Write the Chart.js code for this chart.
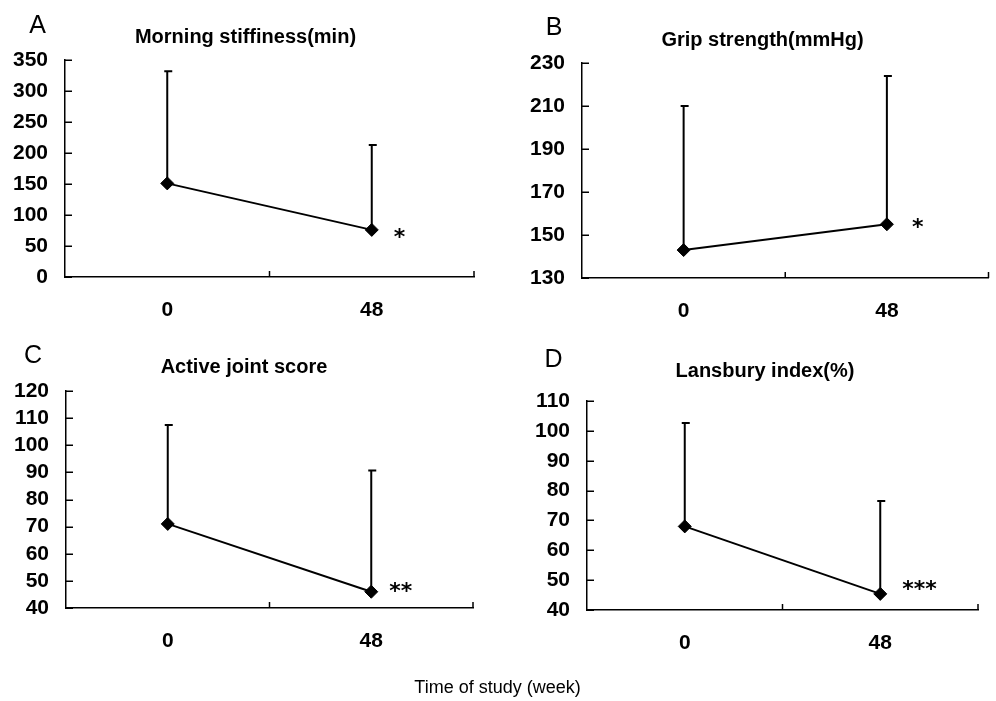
<!DOCTYPE html>
<html>
<head>
<meta charset="utf-8">
<script src="https://cdn.jsdelivr.net/npm/chart.js@4.4.0/dist/chart.umd.min.js"></script>
<style>
  html, body { margin: 0; padding: 0; background: #fff; }
  body { width: 996px; height: 701px; position: relative; overflow: hidden; font-family: "Liberation Sans", Arial, sans-serif; color: #000; }
  canvas { position: absolute; }
  .t { position: absolute; line-height: 1; white-space: nowrap; transform: translate(-50%, -50%); }
  .title { font-size: 20px; font-weight: bold; }
  .letter { font-size: 25px; }
  .xtitle { font-size: 18px; }
</style>
</head>
<body>
<canvas id="cA" width="490" height="330" style="left:0px;top:0px"></canvas>
<canvas id="cB" width="506" height="330" style="left:490px;top:0px"></canvas>
<canvas id="cC" width="490" height="371" style="left:0px;top:330px"></canvas>
<canvas id="cD" width="506" height="371" style="left:490px;top:330px"></canvas>

<div class="t letter" style="left:37.5px;top:24px">A</div>
<div class="t letter" style="left:554px;top:26px">B</div>
<div class="t letter" style="left:33px;top:354px">C</div>
<div class="t letter" style="left:553.5px;top:357.5px">D</div>

<div class="t title" style="left:245.5px;top:35.5px">Morning stiffiness(min)</div>
<div class="t title" style="left:762.5px;top:39px">Grip strength(mmHg)</div>
<div class="t title" style="left:244px;top:366px">Active joint score</div>
<div class="t title" style="left:765px;top:370px">Lansbury index(%)</div>

<div class="t xtitle" style="left:497.5px;top:687px">Time of study (week)</div>

<script>
// ---- data ----
const weeks = ['0', '48'];

const stiffMean = [151, 76];
const stiffSD   = [181, 137];

const gripMean = [143, 155];
const gripSD   = [67, 69];

const jointMean = [71, 46];
const jointSD   = [36.5, 44.7];

const lansMean = [68, 45.4];
const lansSD   = [34.6, 31.1];

const stiffTicks = { min: 0,   max: 350, step: 50 };
const gripTicks  = { min: 130, max: 230, step: 20 };
const jointTicks = { min: 40,  max: 120, step: 10 };
const lansTicks  = { min: 40,  max: 110, step: 10 };

const stars = ['*', '*', '**', '***'];

// ---- drawing helpers ----
const marksPlugin = {
  id: 'marks',
  beforeDatasetsDraw(chart, args, opts) {
    const ctx = chart.ctx;
    const meta = chart.getDatasetMeta(0);
    const ys = chart.scales.y;
    const xs = chart.scales.x;
    const area = chart.chartArea;
    const sd = opts.sd;
    const mean = chart.data.datasets[0].data;
    ctx.save();
    ctx.strokeStyle = '#000';
    // inward y ticks
    ctx.lineWidth = 1.5;
    ys.ticks.forEach(t => {
      const y = Math.round(ys.getPixelForValue(t.value)) + 0.25;
      ctx.beginPath();
      ctx.moveTo(area.left, y);
      ctx.lineTo(area.left + 7, y);
      ctx.stroke();
    });
    // inward x ticks at category boundaries
    const p0 = xs.getPixelForValue(0), p1 = xs.getPixelForValue(1);
    [ (p0 + p1) / 2, area.right ].forEach(x => {
      ctx.beginPath();
      ctx.moveTo(x, area.bottom);
      ctx.lineTo(x, area.bottom - 6);
      ctx.stroke();
    });
    // error bars (upper only)
    ctx.lineWidth = 2;
    meta.data.forEach((pt, i) => {
      const top = ys.getPixelForValue(mean[i] + sd[i]);
      ctx.beginPath();
      ctx.moveTo(pt.x, pt.y);
      ctx.lineTo(pt.x, top);
      ctx.moveTo(pt.x - 3, top);
      ctx.lineTo(pt.x + 5, top);
      ctx.stroke();
    });
    ctx.restore();
  },
  afterDraw(chart, args, opts) {
    const ctx = chart.ctx;
    const meta = chart.getDatasetMeta(0);
    const pt = meta.data[meta.data.length - 1];
    ctx.save();
    ctx.fillStyle = '#000';
    ctx.font = 'bold 22px "DejaVu Sans"';
    ctx.textAlign = 'left';
    ctx.textBaseline = 'alphabetic';
    ctx.fillText(opts.star, pt.x + opts.dx, pt.y + opts.dy + 0.525 * 22);
    ctx.restore();
  }
};

function makeChart(id, mean, sd, tk, star, g) {
  return new Chart(document.getElementById(id), {
    type: 'line',
    data: {
      labels: weeks,
      datasets: [{
        data: mean,
        borderColor: '#000',
        backgroundColor: '#000',
        borderWidth: 2,
        pointStyle: 'rectRot',
        pointRadius: 6.5,
        pointHoverRadius: 6.5,
        pointBackgroundColor: '#000',
        pointBorderColor: '#000',
        pointBorderWidth: 1,
        tension: 0,
        clip: false
      }]
    },
    options: {
      responsive: false,
      animation: false,
      events: [],
      layout: { padding: { left: 0, top: g.top, right: g.right, bottom: 0 } },
      plugins: {
        legend: { display: false },
        tooltip: { enabled: false },
        title: { display: false },
        marks: { sd: sd, star: star, dx: g.sdx, dy: g.sdy }
      },
      scales: {
        x: {
          type: 'category',
          offset: true,
          grid: { display: false, drawTicks: false },
          border: { display: true, color: '#000', width: 1.5 },
          ticks: { color: '#000', padding: 21, autoSkip: false, maxRotation: 0, font: { family: '"Liberation Sans"', size: 21, weight: 'bold' } },
          afterFit(s) { s.height = g.xh; }
        },
        y: {
          type: 'linear',
          min: tk.min,
          max: tk.max,
          grid: { display: false, drawTicks: false },
          border: { display: true, color: '#000', width: 1.5 },
          ticks: { stepSize: tk.step, autoSkip: false, color: '#000', padding: 17, font: { family: '"Liberation Sans"', size: 21, weight: 'bold' } },
          afterFit(s) { s.width = g.left; }
        }
      }
    },
    plugins: [marksPlugin]
  });
}

makeChart('cA', stiffMean, stiffSD, stiffTicks, stars[0], { left: 65, top: 60, right: 16, xh: 53, sdx: 22, sdy: 3 });
makeChart('cB', gripMean,  gripSD,  gripTicks,  stars[1], { left: 92, top: 63, right: 1,  xh: 52, sdx: 25, sdy: -2 });
makeChart('cC', jointMean, jointSD, jointTicks, stars[2], { left: 66, top: 61, right: 17, xh: 93, sdx: 18, sdy: -5 });
makeChart('cD', lansMean,  lansSD,  lansTicks,  stars[3], { left: 97, top: 71, right: 18, xh: 91, sdx: 22, sdy: -9 });
</script>
</body>
</html>
